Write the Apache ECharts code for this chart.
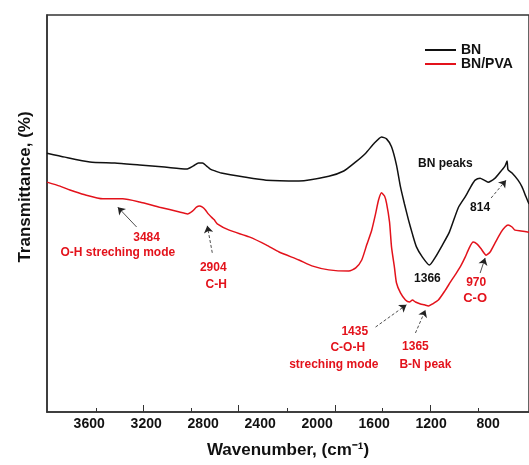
<!DOCTYPE html>
<html>
<head>
    <meta charset="UTF-8" />
    <title>FTIR BN / BN-PVA</title>
    <script src="https://cdn.jsdelivr.net/npm/echarts@6/dist/echarts.min.js"></script>
    <style>
        html, body { margin: 0; padding: 0; background: #fff; }
        #main { width: 529px; height: 465px; }
    </style>
</head>
<body>
    <div id="main"></div>
    <script>
        // wavenumber (cm-1) and transmittance (a.u.)
        var bnWavenumber = [3896, 3770, 3595, 3420, 3246, 3071, 2917, 2868, 2833, 2805, 2777, 2750, 2715, 2673, 2512, 2358, 2128, 1918, 1813, 1729, 1659, 1604, 1548, 1513, 1478, 1443, 1415, 1387, 1359, 1331, 1303, 1261, 1212, 1170, 1128, 1072, 1010, 961, 919, 891, 856, 828, 800, 751, 709, 681, 667, 660, 632, 590, 562, 534, 513];
        var bnTransmittance = [65.2, 64.2, 63.0, 62.7, 62.2, 61.7, 61.2, 62.0, 62.7, 62.7, 62.0, 61.2, 60.7, 60.2, 59.2, 58.4, 58.2, 59.4, 60.7, 63.0, 65.2, 67.5, 69.3, 68.8, 66.8, 62.2, 56.7, 52.4, 48.4, 44.8, 41.6, 39.0, 37.0, 39.0, 41.6, 45.3, 51.4, 54.2, 56.9, 58.4, 58.9, 58.4, 57.9, 58.9, 60.7, 62.0, 63.2, 61.0, 60.2, 58.4, 56.7, 54.2, 52.4];

        var pvaWavenumber = [3896, 3805, 3735, 3630, 3504, 3365, 3246, 3106, 2966, 2910, 2875, 2847, 2826, 2805, 2784, 2764, 2743, 2722, 2701, 2617, 2477, 2358, 2267, 2128, 2037, 1918, 1778, 1729, 1687, 1652, 1617, 1590, 1569, 1548, 1527, 1513, 1492, 1478, 1457, 1443, 1415, 1380, 1352, 1331, 1310, 1275, 1247, 1219, 1191, 1149, 1100, 1065, 1023, 989, 961, 933, 905, 877, 849, 814, 786, 751, 709, 681, 660, 632, 611, 569, 513];
        var pvaTransmittance = [57.9, 56.9, 55.9, 54.7, 53.7, 53.7, 52.9, 51.6, 50.4, 49.9, 50.6, 51.6, 51.9, 51.6, 50.9, 49.9, 49.1, 48.4, 47.4, 45.8, 44.1, 42.1, 40.3, 38.3, 36.8, 35.8, 35.5, 36.3, 38.3, 42.1, 45.8, 49.9, 53.4, 55.2, 54.4, 52.6, 47.9, 41.6, 36.3, 32.5, 30.0, 28.2, 27.7, 28.2, 27.7, 27.2, 27.0, 26.7, 27.2, 28.2, 30.7, 32.7, 35.0, 37.0, 39.0, 41.3, 42.8, 42.3, 41.1, 39.5, 40.3, 42.6, 45.3, 46.6, 47.1, 46.6, 45.8, 45.6, 45.3];

        var tickLabels = [3600, 3200, 2800, 2400, 2000, 1600, 1200, 800];
        var majorTicks = [3218, 2554, 1876, 1205];
        var minorTicks = [3553, 2882, 2211, 1541, 870];

        // peak annotations: text, wavenumber, transmittance, colour, size
        var noteText = ['3484', 'O-H streching mode', '2904', 'C-H', 'BN peaks', '814', '1366', '970', 'C-O', '1435', 'C-O-H', 'streching mode', '1365', 'B-N peak'];
        var noteWave = [3197, 3399, 2729, 2708, 1100, 856, 1226, 884, 891, 1736, 1785, 1883, 1310, 1240];
        var noteT = [43.8, 40.1, 36.3, 32.0, 62.5, 51.4, 33.5, 32.5, 28.5, 20.2, 16.1, 11.8, 16.4, 11.8];
        var noteRed = [1, 1, 1, 1, 0, 0, 0, 1, 1, 1, 1, 1, 1, 1];
        var noteSize = [12, 12, 12, 12, 12, 12, 12, 12, 13, 12, 12, 12, 12, 12];

        // arrows: from [wave, T] to [wave, T], dashed or not
        var arrowFrom = [[3267, 46.6], [2736, 40.1], [779, 53.9], [856, 35.0], [1590, 21.4], [1310, 19.9]];
        var arrowTo = [[3399, 51.6], [2771, 46.9], [674, 58.4], [821, 38.8], [1373, 27.0], [1240, 25.7]];
        var arrowDashed = [0, 1, 1, 0, 1, 1];

        var FONT = 'Arial, "Liberation Sans", sans-serif';
        var RED = '#e3121b';

        function pairs(xs, ys) {
            var out = [];
            for (var i = 0; i < xs.length; i++) out.push([xs[i], ys[i]]);
            return out;
        }

        var notePoints = noteText.map(function (t, i) {
            return {
                name: t,
                coord: [noteWave[i], noteT[i]],
                label: {
                    formatter: t,
                    color: noteRed[i] ? RED : '#111',
                    fontSize: noteSize[i]
                }
            };
        });
        var arrowLines = arrowFrom.map(function (f, i) {
            return [
                { coord: f, lineStyle: { type: arrowDashed[i] ? [3, 2] : 'solid' } },
                { coord: arrowTo[i] }
            ];
        });

        var myChart = echarts.init(document.getElementById('main'));
        var option = {
            animation: false,
            backgroundColor: '#fff',
            grid: {
                left: 47, top: 15, right: -2, bottom: 53,
                show: true, borderColor: '#333', borderWidth: 1.5
            },
            legend: {
                data: [{ name: 'BN', icon: 'rect' }, { name: 'BN/PVA', icon: 'rect' }],
                orient: 'vertical',
                left: 420, top: 38,
                itemWidth: 31, itemHeight: 2, itemGap: 0,
                textStyle: { fontFamily: FONT, fontWeight: 'bold', fontSize: 14, color: '#111', lineHeight: 14 }
            },
            xAxis: [
                {
                    type: 'value', inverse: true, min: 513, max: 3896,
                    name: 'Wavenumber, (cm\u207B\u00B9)',
                    nameLocation: 'middle', nameGap: 30,
                    nameTextStyle: { fontFamily: FONT, fontWeight: 'bold', fontSize: 17, color: '#111' },
                    axisLine: { lineStyle: { color: '#333', width: 1.5 } },
                    axisTick: { show: true, inside: true, length: 7, customValues: majorTicks, lineStyle: { color: '#333' } },
                    axisLabel: {
                        customValues: tickLabels, margin: 5,
                        formatter: function (v) { return String(v); },
                        fontFamily: FONT, fontWeight: 'bold', fontSize: 14, color: '#111'
                    },
                    splitLine: { show: false }
                },
                {
                    type: 'value', inverse: true, min: 513, max: 3896, position: 'bottom',
                    axisLine: { show: false },
                    axisTick: { show: true, inside: true, length: 4, customValues: minorTicks, lineStyle: { color: '#333' } },
                    axisLabel: { show: false },
                    splitLine: { show: false }
                }
            ],
            yAxis: {
                type: 'value', min: 0, max: 100,
                axisLine: { show: true, lineStyle: { color: '#333', width: 1.5 } },
                axisTick: { show: false },
                axisLabel: { show: false },
                splitLine: { show: false }
            },
            graphic: [{
                type: 'text', x: 25, y: 187, rotation: Math.PI / 2,
                style: {
                    text: 'Transmittance, (%)', fill: '#111',
                    font: 'bold 17px ' + FONT, align: 'center', verticalAlign: 'middle'
                }
            }],
            series: [
                {
                    name: 'BN', type: 'line', symbol: 'none', smooth: 0.2,
                    color: '#111',
                    lineStyle: { color: '#111', width: 1.5 },
                    data: pairs(bnWavenumber, bnTransmittance)
                },
                {
                    name: 'BN/PVA', type: 'line', symbol: 'none', smooth: 0.2,
                    color: RED,
                    lineStyle: { color: RED, width: 1.5 },
                    data: pairs(pvaWavenumber, pvaTransmittance),
                    markLine: {
                        silent: true,
                        symbol: ['none', 'arrow'], symbolSize: 7,
                        label: { show: false },
                        lineStyle: { color: '#222', width: 0.8 },
                        data: arrowLines
                    },
                    markPoint: {
                        silent: true,
                        symbol: 'rect', symbolSize: 1,
                        itemStyle: { color: 'rgba(0,0,0,0)' },
                        label: { show: true, position: 'inside', fontFamily: FONT, fontWeight: 'bold' },
                        data: notePoints
                    }
                }
            ]
        };
        myChart.setOption(option);
    </script>
</body>
</html>
